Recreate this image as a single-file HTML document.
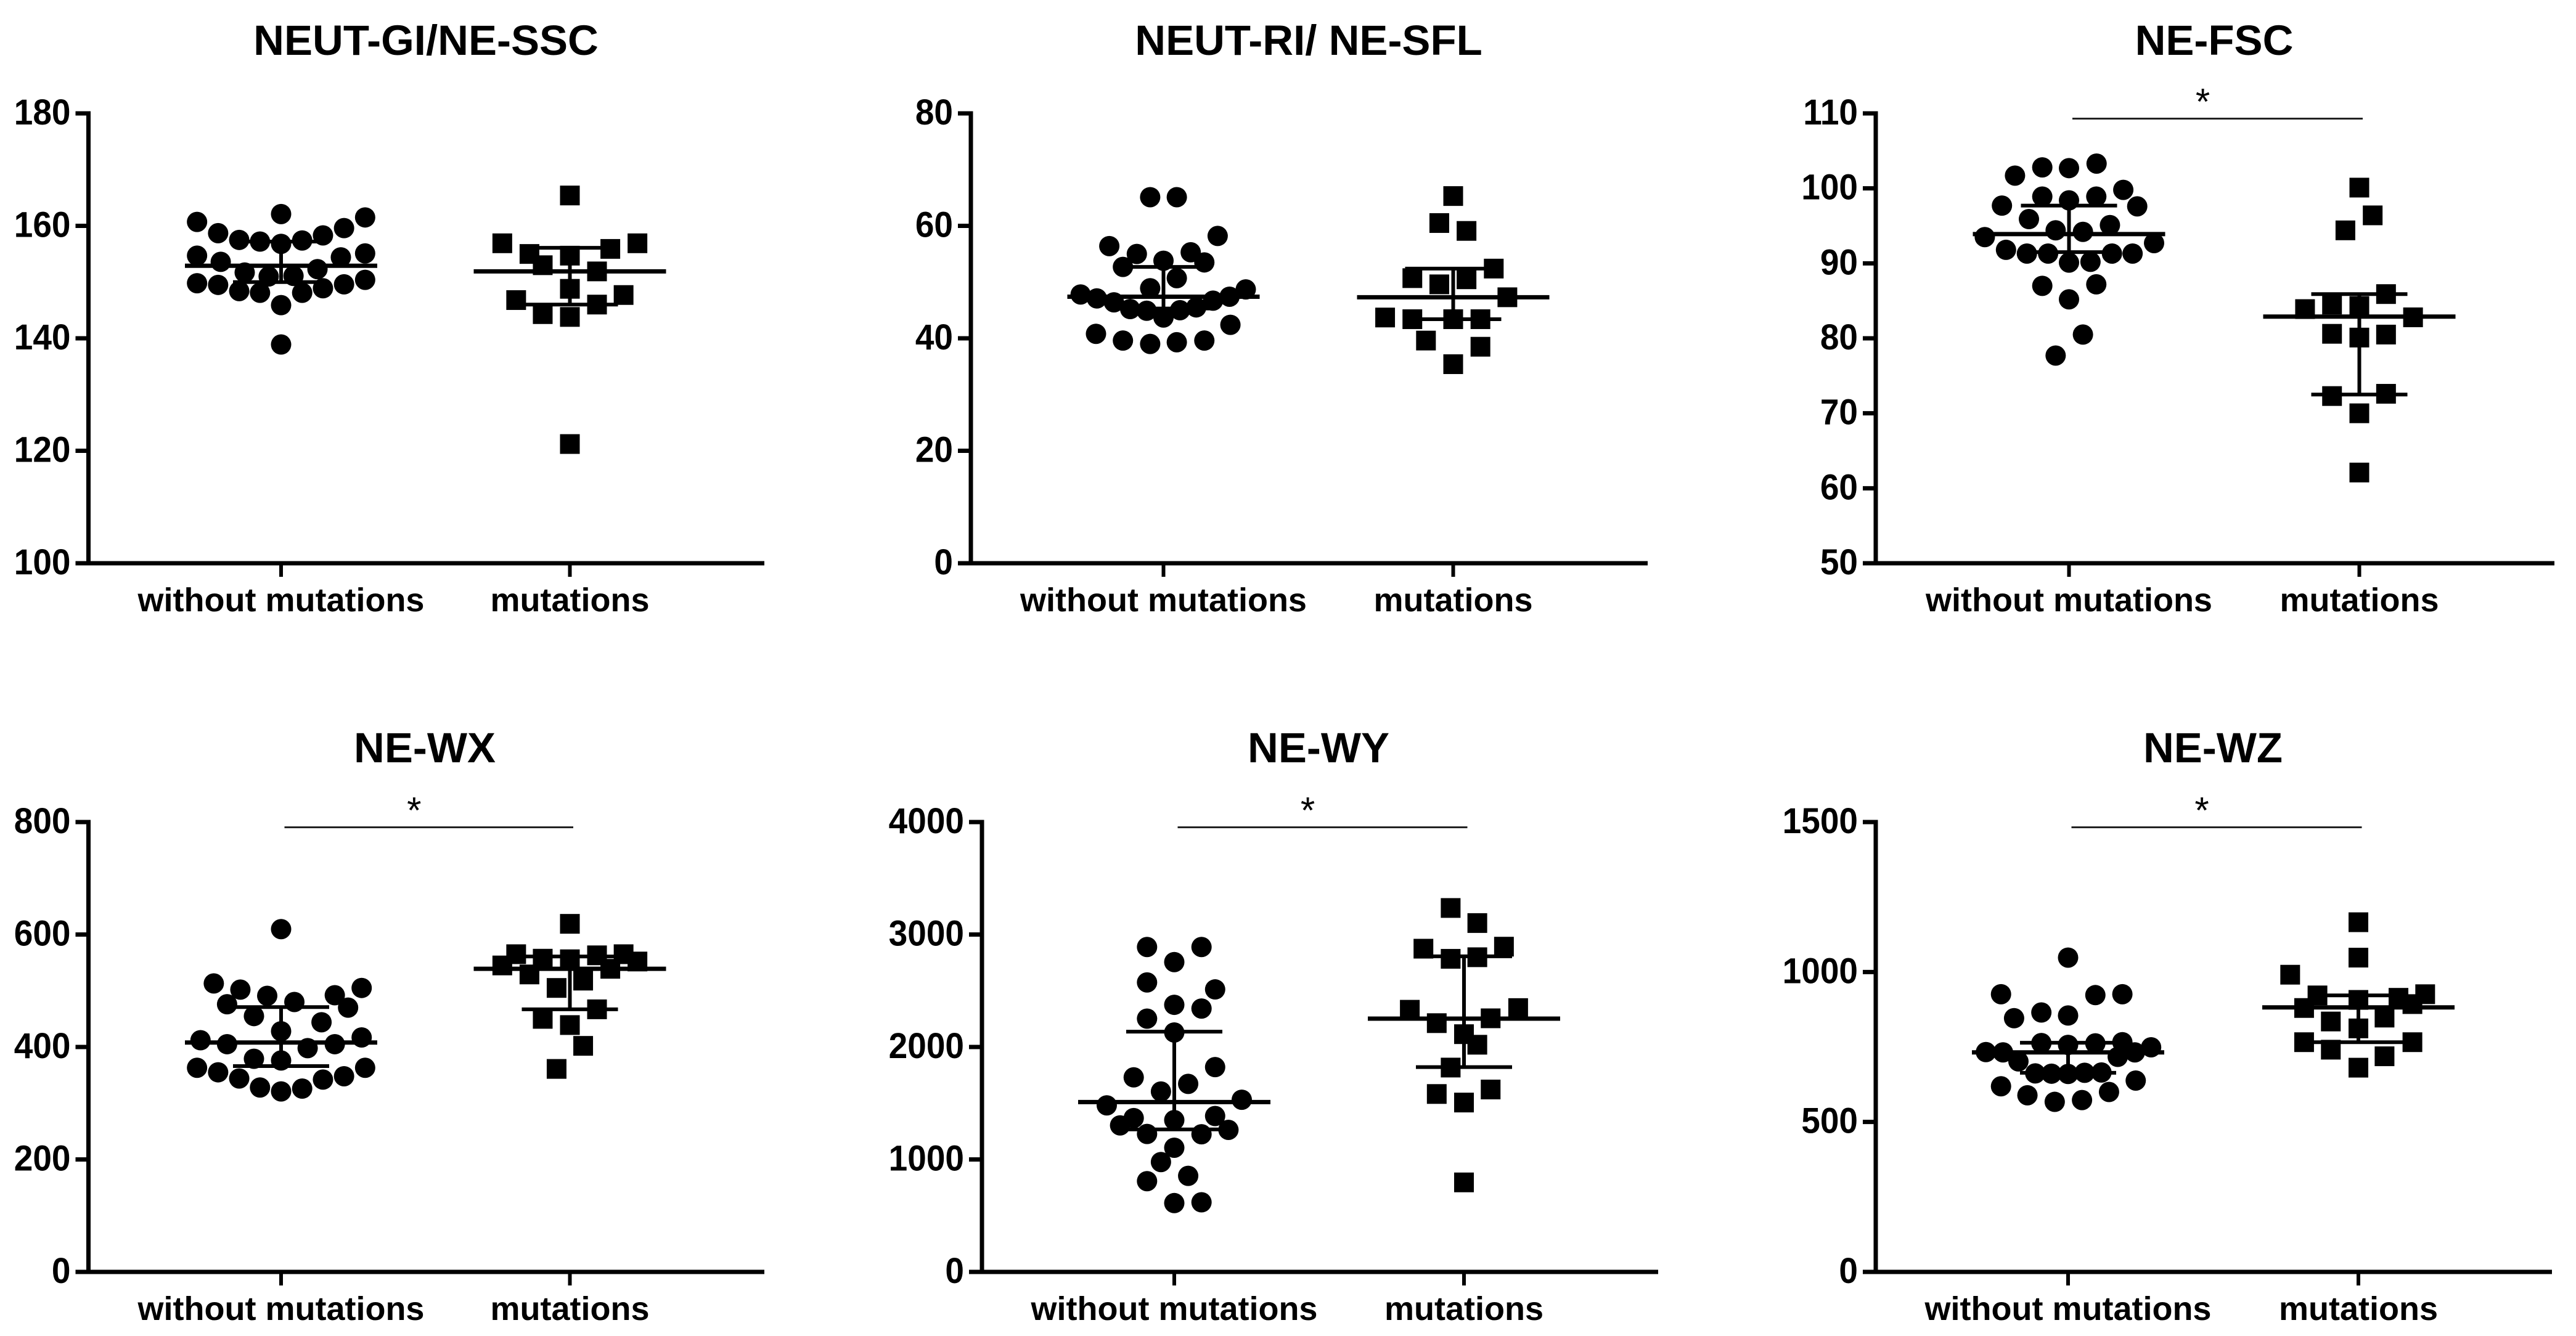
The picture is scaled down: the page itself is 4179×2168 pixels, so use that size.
<!DOCTYPE html>
<html lang="en">
<head>
<meta charset="utf-8">
<title>Neutrophil parameters with and without mutations</title>
<style>
html,body{margin:0;padding:0;background:#fff;}
svg{display:block;font-family:"Liberation Sans",Arial,sans-serif;}
</style>
</head>
<body>
<svg id="figure" xmlns="http://www.w3.org/2000/svg" width="4179" height="2168" viewBox="0 0 4179 2168">
<rect x="0" y="0" width="4179" height="2168" fill="#ffffff"/>
</svg>
<script>
const categories = ['without mutations', 'mutations'];

/* Panel 1: NEUT-GI/NE-SSC */
const ssc_ticks = [100, 120, 140, 160, 180];
const ssc_without = [160.7,158.7,157.5,157.2,156.8,157.4,158.3,159.6,161.5,162.1,154.7,153.6,151.7,151,151.1,152.3,154.4,155.1,149.8,149.5,148.4,148.1,145.9,148.1,148.9,149.6,150.4,138.9];
const ssc_without_jitter = [-.291,-.218,-.145,-.073,0,.073,.145,.218,.291,0,-.291,-.209,-.126,-.043,.043,.126,.207,.291,-.291,-.218,-.145,-.073,0,.073,.145,.218,.291,0];
const ssc_mutations = [165.4,156.9,155,153,154.7,155.9,156.9,151.9,148.8,147.7,146.8,146,144.3,143.8,121.2];
const ssc_mutations_jitter = [0,-.234,-.14,-.094,0,.14,.234,.094,0,.186,-.186,.094,-.094,0,0];
const ssc_median = [152.9, 151.9];
const ssc_upper = [157.2, 156.1];
const ssc_lower = [150, 146];

/* Panel 2: NEUT-RI/ NE-SFL */
const sfl_ticks = [0, 20, 40, 60, 80];
const sfl_without = [65.1,65.1,58.2,56.4,55,55.3,53.8,52.7,53.5,50.7,48.9,47.8,47.1,46.4,45.2,44.9,43.7,45,45.5,46.7,47.4,48.7,42.4,40.8,39.6,39,39.3,39.6];
const sfl_without_jitter = [-.046,.046,.187,-.187,-.092,.094,0,-.14,.141,.046,-.046,-.286,-.23,-.171,-.115,-.058,0,.057,.113,.171,.228,.284,.231,-.233,-.14,-.046,.046,.141];
const sfl_mutations = [65.3,60.5,59.1,52.4,50.7,50.5,49.6,47.3,43.7,43.4,43.4,43.4,39.6,38.5,35.4];
const sfl_mutations_jitter = [0,-.048,.046,.14,-.141,.046,-.048,.187,-.235,-.141,0,.094,-.094,.094,0];
const sfl_median = [47.4, 47.3];
const sfl_upper = [52.7, 52.4];
const sfl_lower = [45.3, 43.4];

/* Panel 3: NE-FSC */
const fsc_ticks = [50, 60, 70, 80, 90, 100, 110];
const fsc_without = [103.3,102.8,102.7,101.7,99.8,98.9,98.4,98.9,97.7,97.6,95.9,95.1,94.4,94.2,93.5,92.7,91.8,91.3,91.3,91.3,91.3,90.1,90.2,87,87.2,85.2,80.5,77.7];
const fsc_without_jitter = [.095,-.092,0,-.186,.187,-.092,0,.094,-.231,.235,-.138,.141,-.046,.048,-.29,.293,-.217,-.145,-.072,.148,.219,0,.074,-.092,.094,0,.048,-.046];
const fsc_mutations = [100.1,96.4,94.4,85.9,83.9,84.5,84.3,82.8,80.6,80.1,80.5,72.3,72.6,70,62.1];
const fsc_mutations_jitter = [0,.046,-.048,.092,-.187,-.094,0,.185,-.094,0,.092,-.094,.092,0,0];
const fsc_median = [93.9, 82.9];
const fsc_upper = [97.7, 85.9];
const fsc_lower = [91.5, 72.5];

/* Panel 4: NE-WX */
const wx_ticks = [0, 200, 400, 600, 800];
const wx_without = [609.6,513,502,491,505,492,480,476,470,455,444,428,412,417,405,405,398,379,376,363,363,355,344,342,348,328,326,321];
const wx_without_jitter = [0,-.233,-.141,-.048,.279,.186,.046,-.187,.232,-.094,.14,0,-.279,.279,-.187,.186,.092,-.094,0,-.291,.291,-.218,-.145,.145,.218,-.073,.073,0];
const wx_mutations = [619,565,557,556,563,565,545,552,529,539,505,518,467,450,439,402,361];
const wx_mutations_jitter = [0,-.186,-.094,0,.094,.186,-.234,.234,-.14,.14,-.046,.046,.094,-.094,0,.046,-.046];
const wx_median = [408, 539];
const wx_upper = [471, 561];
const wx_lower = [366, 467];

/* Panel 5: NE-WY */
const wy_ticks = [0, 1000, 2000, 3000, 4000];
const wy_without = [2889,2889,2755,2574,2512,2375,2342,2252,2129,1821,1730,1672,1604,1531,1481,1368,1350,1386,1303,1227,1224,1263,1104,977,854,807,612,619];
const wy_without_jitter = [-.094,.094,0,-.094,.141,0,.094,-.094,0,.141,-.14,.048,-.046,.233,-.233,-.14,0,.141,-.187,-.094,.094,.187,0,-.046,.048,-.094,0,.094];
const wy_mutations = [3236,3102,2874,2892,2784,2798,2331,2346,2212,2255,2114,2020,1817,1582,1622,1506,796];
const wy_mutations_jitter = [-.046,.046,-.14,.138,-.046,.046,-.187,.187,-.094,.092,0,.046,-.046,-.094,.092,0,0];
const wy_median = [1510, 2252];
const wy_upper = [2136, 2806];
const wy_lower = [1267, 1821];

/* Panel 6: NE-WZ */
const wz_ticks = [0, 500, 1000, 1500];
const wz_without = [1048,926,923,926,846,865,855,763,757,762,766,733,732,702,732,717,749,662,661,660,664,665,638,619,589,600,567,573];
const wz_without_jitter = [0,-.231,.094,.187,-.186,-.092,0,-.092,0,.094,.187,-.283,-.224,-.171,.23,.171,.286,-.113,-.057,0,.057,.115,.233,-.231,-.14,.141,-.046,.048];
const wz_mutations = [1166,1048,991,922,907,914,926,880,893,835,848,812,766,766,741,719,681];
const wz_mutations_jitter = [0,0,-.235,-.141,0,.138,.23,-.187,.186,-.095,.09,0,-.187,.186,-.095,.09,0];
const wz_median = [732, 882];
const wz_upper = [764, 922];
const wz_lower = [664, 766];

const panels = [
  {id:'neut-gi', title:'NEUT-GI/NE-SSC', sig:false, ticks:ssc_ticks, without:ssc_without, withoutJ:ssc_without_jitter, mut:ssc_mutations, mutJ:ssc_mutations_jitter, med:ssc_median, up:ssc_upper, lo:ssc_lower,
   box:{axis:143.5, g1:456, g2:924.5, end:1240, top:184, bottom:914, titleX:691, titleY:89}},
  {id:'neut-ri', title:'NEUT-RI/ NE-SFL', sig:false, ticks:sfl_ticks, without:sfl_without, withoutJ:sfl_without_jitter, mut:sfl_mutations, mutJ:sfl_mutations_jitter, med:sfl_median, up:sfl_upper, lo:sfl_lower,
   box:{axis:1575, g1:1887.5, g2:2357.5, end:2673, top:184, bottom:914, titleX:2123, titleY:89}},
  {id:'ne-fsc', title:'NE-FSC', sig:true, ticks:fsc_ticks, without:fsc_without, withoutJ:fsc_without_jitter, mut:fsc_mutations, mutJ:fsc_mutations_jitter, med:fsc_median, up:fsc_upper, lo:fsc_lower,
   box:{axis:3043, g1:3356.5, g2:3827.5, end:4144, top:184, bottom:914, titleX:3592, titleY:89}},
  {id:'ne-wx', title:'NE-WX', sig:true, ticks:wx_ticks, without:wx_without, withoutJ:wx_without_jitter, mut:wx_mutations, mutJ:wx_mutations_jitter, med:wx_median, up:wx_upper, lo:wx_lower,
   box:{axis:143.5, g1:456, g2:924.5, end:1240, top:1334, bottom:2064, titleX:689, titleY:1237}},
  {id:'ne-wy', title:'NE-WY', sig:true, ticks:wy_ticks, without:wy_without, withoutJ:wy_without_jitter, mut:wy_mutations, mutJ:wy_mutations_jitter, med:wy_median, up:wy_upper, lo:wy_lower,
   box:{axis:1593, g1:1905, g2:2375, end:2690, top:1334, bottom:2064, titleX:2139, titleY:1237}},
  {id:'ne-wz', title:'NE-WZ', sig:true, ticks:wz_ticks, without:wz_without, withoutJ:wz_without_jitter, mut:wz_mutations, mutJ:wz_mutations_jitter, med:wz_median, up:wz_upper, lo:wz_lower,
   box:{axis:3043, g1:3355, g2:3826, end:4140, top:1334, bottom:2064, titleX:3590, titleY:1237}}
];

const NS = 'http://www.w3.org/2000/svg';
const svg = document.getElementById('figure');
function shape(parent, tag, attrs) {
  const el = document.createElementNS(NS, tag);
  for (const k in attrs) el.setAttribute(k, attrs[k]);
  parent.appendChild(el);
  return el;
}
function line(parent, x1, y1, x2, y2, w) {
  return shape(parent, 'line', {x1:x1, y1:y1, x2:x2, y2:y2, stroke:'#000', 'stroke-width':w});
}

panels.forEach(function (p) {
  const b = p.box;
  const yMin = p.ticks[0];
  const yMax = p.ticks[p.ticks.length - 1];
  const yScale = function (v) { return b.bottom - (v - yMin) / (yMax - yMin) * (b.bottom - b.top); };
  const xScale = function (cat, jitter) { return (cat === 0 ? b.g1 : b.g2) + (jitter || 0) * (b.g2 - b.g1); };

  const g = shape(svg, 'g', {});
  
  

  const title = shape(g, 'text', {x:b.titleX, y:b.titleY, 'text-anchor':'middle', 'font-size':69, 'font-weight':'bold', fill:'#000'});
  title.textContent = p.title;
  
  

  const yAxis = line(g, b.axis, b.top - 3.5, b.axis, b.bottom + 3.5, 7);
  
  

  const xAxis = line(g, b.axis - 21, b.bottom, b.end, b.bottom, 7);
  
  

  p.ticks.forEach(function (t) {
    const y = yScale(t);
    const tick = line(g, b.axis - 21, y, b.axis, y, 7);
    
    
    const lab = shape(g, 'text', {x:0, y:0, transform:'translate(' + (b.axis - 29) + ',' + (y + 18) + ') scale(1,1.07)', 'text-anchor':'end', 'font-size':55, 'font-weight':'bold', fill:'#000'});
    lab.textContent = String(t);
    
    
  });

  categories.forEach(function (c, i) {
    const x = xScale(i, 0);
    const tick = line(g, x, b.bottom, x, b.bottom + 22, 6);
    
    
    const lab = shape(g, 'text', {x:x, y:b.bottom + 78, 'text-anchor':'middle', 'font-size':54, 'font-weight':'bold', fill:'#000'});
    lab.textContent = c;
    
    

    const medianLine = line(g, x - 156, yScale(p.med[i]), x + 156, yScale(p.med[i]), 7);
    
    
    const whisker = line(g, x, yScale(p.up[i]), x, yScale(p.lo[i]), 6);
    
    
    const capUp = line(g, x - 78, yScale(p.up[i]), x + 78, yScale(p.up[i]), 6);
    
    
    const capLo = line(g, x - 78, yScale(p.lo[i]), x + 78, yScale(p.lo[i]), 6);
    
    
  });

  p.without.forEach(function (v, i) {
    const dot = shape(g, 'circle', {cx:xScale(0, p.withoutJ[i]), cy:yScale(v), r:16.5, fill:'#000'});
    
    
  });

  p.mut.forEach(function (v, i) {
    const sq = shape(g, 'rect', {x:xScale(1, p.mutJ[i]) - 16, y:yScale(v) - 16, width:32, height:32, fill:'#000'});
    
    
  });

  if (p.sig) {
    const sy = b.top + 8.5;
    const x1 = b.g1 + 5.5;
    const x2 = b.g2 + 5.5;
    const bracket = shape(g, 'line', {x1:x1, y1:sy, x2:x2, y2:sy, stroke:'#222', 'stroke-width':3});
    
    
    const star = shape(g, 'text', {x:(x1 + x2) / 2 - 24, y:b.top + 1.5, 'text-anchor':'middle', 'font-size':60, fill:'#000'});
    star.textContent = '*';
    
    
  }
});
</script>
</body>
</html>
